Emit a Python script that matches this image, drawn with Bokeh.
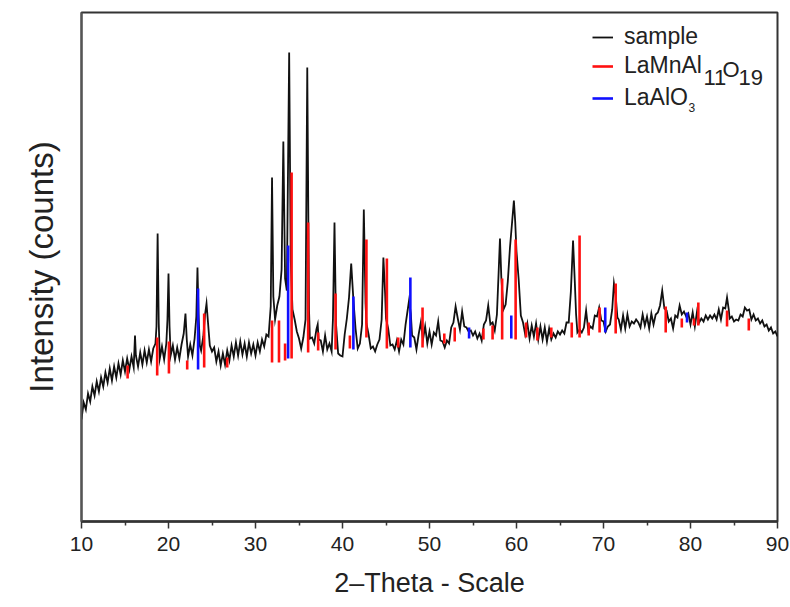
from bokeh.plotting import figure
from bokeh.models import Range1d, FixedTicker, Legend, LegendItem, Label
from bokeh.embed import file_html
from bokeh.resources import INLINE

# ---------------- data ----------------
two_theta = [
    10.00, 10.25, 10.50, 10.75, 11.00, 11.25, 11.50, 11.75, 12.00, 12.25,
    12.50, 12.75, 13.00, 13.25, 13.50, 13.75, 14.00, 14.25, 14.50, 14.75,
    15.00, 15.25, 15.50, 15.75, 16.00, 16.15, 16.25, 16.50, 16.75, 17.00,
    17.25, 17.50, 17.75, 18.00, 18.25, 18.50, 18.62, 18.75, 18.88, 19.00,
    19.25, 19.50, 19.75, 19.88, 20.00, 20.12, 20.25, 20.50, 20.75, 21.00,
    21.25, 21.50, 21.75, 21.95, 22.10, 22.25, 22.50, 22.75, 23.00, 23.20,
    23.33, 23.45, 23.60, 23.75, 24.00, 24.20, 24.37, 24.55, 24.75, 25.00,
    25.25, 25.50, 25.75, 26.00, 26.25, 26.50, 26.75, 27.00, 27.25, 27.50,
    27.75, 28.00, 28.25, 28.50, 28.75, 29.00, 29.25, 29.50, 29.75, 30.00,
    30.25, 30.50, 30.75, 31.00, 31.25, 31.50, 31.75, 31.90, 32.05, 32.25,
    32.50, 32.75, 33.00, 33.20, 33.40, 33.60, 33.87, 34.05, 34.25, 34.50,
    34.75, 35.00, 35.25, 35.50, 35.75, 35.95, 36.15, 36.25, 36.50, 36.75,
    37.00, 37.15, 37.25, 37.50, 37.75, 38.00, 38.25, 38.50, 38.75, 38.90,
    39.08, 39.25, 39.50, 39.75, 40.00, 40.25, 40.50, 40.75, 41.00, 41.25,
    41.50, 41.75, 42.00, 42.25, 42.45, 42.65, 42.75, 43.00, 43.25, 43.50,
    43.75, 44.00, 44.25, 44.50, 44.70, 44.90, 45.00, 45.25, 45.50, 45.75,
    46.00, 46.25, 46.50, 46.75, 47.00, 47.25, 47.50, 47.65, 47.85, 48.00,
    48.25, 48.50, 48.75, 49.00, 49.25, 49.50, 49.75, 50.00, 50.25, 50.50,
    50.75, 51.00, 51.25, 51.50, 51.75, 52.00, 52.25, 52.50, 52.75, 53.00,
    53.25, 53.50, 53.75, 54.00, 54.25, 54.50, 54.75, 55.00, 55.25, 55.50,
    55.75, 56.00, 56.25, 56.50, 56.75, 57.00, 57.25, 57.50, 57.75, 57.95,
    58.10, 58.25, 58.50, 58.75, 59.00, 59.25, 59.50, 59.70, 59.85, 60.00,
    60.25, 60.50, 60.75, 61.00, 61.25, 61.50, 61.75, 62.00, 62.25, 62.50,
    62.75, 63.00, 63.25, 63.50, 63.75, 64.00, 64.25, 64.50, 64.75, 65.00,
    65.25, 65.50, 65.75, 66.00, 66.25, 66.50, 66.70, 66.85, 67.00, 67.25,
    67.50, 67.75, 68.00, 68.25, 68.50, 68.75, 69.00, 69.25, 69.50, 69.75,
    70.00, 70.25, 70.50, 70.75, 71.00, 71.20, 71.40, 71.60, 71.75, 72.00,
    72.25, 72.50, 72.75, 73.00, 73.25, 73.50, 73.75, 74.00, 74.25, 74.50,
    74.75, 75.00, 75.25, 75.50, 75.75, 76.00, 76.25, 76.50, 76.75, 77.00,
    77.25, 77.50, 77.75, 78.00, 78.25, 78.50, 78.75, 79.00, 79.25, 79.50,
    79.75, 80.00, 80.25, 80.50, 80.75, 81.00, 81.25, 81.50, 81.75, 82.00,
    82.25, 82.50, 82.75, 83.00, 83.25, 83.50, 83.75, 84.00, 84.20, 84.40,
    84.50, 84.75, 85.00, 85.25, 85.50, 85.75, 86.00, 86.25, 86.50, 86.75,
    87.00, 87.25, 87.50, 87.75, 88.00, 88.25, 88.50, 88.75, 89.00, 89.25,
    89.50, 89.75, 90.00,
]

sample_counts = [
    102, 119, 112, 128, 120, 135, 126, 140, 130, 144,
    135, 149, 139, 153, 141, 155, 144, 158, 147, 161,
    150, 163, 152, 165, 154, 186, 166, 155, 169, 157,
    171, 159, 172, 160, 173, 178, 195, 288, 198, 163,
    175, 162, 178, 202, 248, 195, 166, 176, 162, 174,
    163, 177, 188, 208, 182, 165, 177, 166, 183, 205,
    254, 208, 176, 171, 185, 207, 218, 198, 176, 170,
    174, 160, 170, 156, 168, 157, 171, 161, 176, 165,
    179, 166, 180, 167, 178, 165, 179, 168, 177, 166,
    179, 170, 182, 175, 187, 185, 215, 344, 225, 202,
    216, 225, 252, 380, 243, 231, 469, 262, 212, 202,
    190, 183, 173, 184, 202, 454, 212, 183, 184, 178,
    192, 197, 182, 181, 170, 186, 172, 178, 170, 202,
    299, 198, 168, 166, 165, 187, 203, 224, 258, 222,
    193, 173, 178, 197, 312, 218, 198, 187, 173, 175,
    170, 177, 182, 202, 264, 228, 203, 193, 176, 177,
    172, 181, 170, 182, 177, 197, 212, 221, 208, 186,
    184, 172, 187, 199, 182, 195, 178, 190, 177, 189,
    186, 200, 181, 180, 174, 181, 178, 194, 199, 215,
    203, 192, 210, 195, 194, 190, 191, 186, 190, 183,
    188, 181, 197, 201, 216, 197, 199, 191, 207, 250,
    283, 245, 212, 217, 240, 274, 300, 321, 300, 270,
    242, 206, 199, 187, 198, 183, 196, 185, 198, 182,
    195, 182, 194, 180, 193, 182, 188, 184, 190, 187,
    191, 188, 199, 199, 230, 281, 240, 207, 189, 192,
    189, 194, 211, 191, 195, 193, 206, 205, 214, 201,
    200, 190, 195, 197, 212, 238, 226, 204, 202, 192,
    206, 193, 207, 195, 200, 198, 202, 199, 194, 207,
    196, 205, 193, 208, 197, 207, 209, 216, 231, 213,
    211, 200, 203, 193, 206, 204, 216, 207, 210, 205,
    208, 197, 209, 195, 210, 199, 203, 200, 206, 202,
    206, 203, 207, 202, 212, 202, 214, 213, 224, 212,
    203, 205, 200, 202, 201, 207, 205, 214, 211, 212,
    202, 207, 201, 203, 198, 201, 195, 197, 191, 194,
    188, 190, 185,
]

# LaMnAl11O19 reference lines (drawn as sticks from a base level to a top level)
lamnal_pos = [15.3, 18.7, 20.05, 22.15, 24.1, 26.75, 31.9, 32.7, 33.4, 34.15,
              36.05, 37.2, 39.2, 40.85, 42.75, 45.1, 46.4, 49.2, 51.7, 52.9,
              56.2, 57.25, 58.35, 59.9, 61.1, 62.4, 64.0, 66.35, 67.25, 68.3,
              69.55, 71.4, 77.15, 79.0, 80.4, 80.9, 84.2, 86.7]
lamnal_base = [143, 146, 148, 152, 154, 154, 159, 159, 161, 163,
               169, 171, 172, 173, 184, 173, 174, 174, 178, 180,
               182, 182, 182, 182, 184, 181, 184, 184, 184, 186,
               189, 188, 189, 194, 196, 196, 195, 191]
lamnal_top = [156, 184, 180, 161, 208, 164, 201, 201, 178, 349,
              299, 189, 228, 186, 282, 263, 184, 214, 188, 194,
              193, 196, 243, 282, 199, 194, 194, 199, 286, 199,
              214, 238, 215, 203, 203, 219, 211, 203]

# LaAlO3 reference lines
laalo_pos = [23.4, 33.75, 41.25, 47.8, 54.55, 59.4, 70.2, 79.6]
laalo_base = [152, 163, 172, 174, 183, 183, 189, 199]
laalo_top = [233, 276, 225, 244, 194, 206, 214, 209]

x_ticks = [10, 20, 30, 40, 50, 60, 70, 80, 90]
x_minor = [15, 25, 35, 45, 55, 65, 75, 85]

FONT = "Liberation Sans"

# ---------------- figure ----------------
p = figure(width=790, height=607, output_backend="svg", toolbar_location=None,
           x_range=Range1d(10, 90), y_range=Range1d(0, 509),
           min_border_left=81, min_border_right=13, min_border_top=12,
           min_border_bottom=86)
p.background_fill_color = "white"
p.border_fill_color = "white"
p.xgrid.visible = False
p.ygrid.visible = False
p.outline_line_color = "#333333"
p.outline_line_width = 2

r_sample = p.line(two_theta, sample_counts, line_color="#111111", line_width=1.8,
                  line_join="miter")
r_red = p.segment(x0=lamnal_pos, y0=lamnal_base, x1=lamnal_pos, y1=lamnal_top,
                  line_color="#ff1010", line_width=2.6)
r_blue = p.segment(x0=laalo_pos, y0=laalo_base, x1=laalo_pos, y1=laalo_top,
                   line_color="#1010ff", line_width=2.6)

# axes
xa = p.xaxis[0]
xa.ticker = FixedTicker(ticks=x_ticks, minor_ticks=x_minor)
xa.major_tick_in = 0
xa.major_tick_out = 7
xa.minor_tick_in = 0
xa.minor_tick_out = 4
xa.major_tick_line_width = 1.5
xa.minor_tick_line_width = 1.5
xa.axis_line_width = 2.5
xa.axis_line_color = "#333333"
xa.major_tick_line_color = "#333333"
xa.minor_tick_line_color = "#333333"
xa.major_label_text_font = FONT
xa.major_label_text_font_size = "21px"
xa.major_label_text_color = "#222222"
xa.major_label_standoff = 8
xa.axis_label = "2\u2013Theta - Scale"
xa.axis_label_text_font = FONT
xa.axis_label_text_font_style = "normal"
xa.axis_label_text_font_size = "27px"
xa.axis_label_text_color = "#222222"
xa.axis_label_standoff = 14

ya = p.yaxis[0]
ya.ticker = FixedTicker(ticks=[])
ya.major_tick_line_color = None
ya.minor_tick_line_color = None
ya.axis_line_width = 2
ya.axis_line_color = "#555555"
ya.axis_label = "Intensity (counts)"
ya.axis_label_text_font = FONT
ya.axis_label_text_font_style = "normal"
ya.axis_label_text_font_size = "33px"
ya.axis_label_text_color = "#222222"
ya.axis_label_standoff = 22

# legend: one single-entry legend per row, so each row can be placed exactly
for label, rend, vy in [("sample", r_sample, 471), ("LaMnAl", r_red, 442),
                        ("LaAlO", r_blue, 410)]:
    lg = Legend(items=[LegendItem(label=label, renderers=[rend])], location=(511, vy))
    lg.border_line_color = None
    lg.background_fill_alpha = 0
    lg.padding = 0
    lg.margin = 0
    lg.spacing = 0
    lg.glyph_width = 21
    lg.glyph_height = 20
    lg.label_height = 20
    lg.label_standoff = 11
    lg.label_text_font = FONT
    lg.label_text_font_size = "23px"
    lg.label_text_color = "#222222"
    p.add_layout(lg)

for txt, sx, sy, fs in [("11", 622, 444, "22px"), ("O", 641, 452, "22px"),
                        ("19", 657, 444, "22px"), ("3", 607, 414, "12px")]:
    p.add_layout(Label(x=sx, y=sy, x_units="screen", y_units="screen", text=txt,
                       text_font=FONT, text_font_size=fs, text_color="#222222",
                       text_baseline="middle", text_align="left"))

open("out.html", "w").write(file_html(p, INLINE))
